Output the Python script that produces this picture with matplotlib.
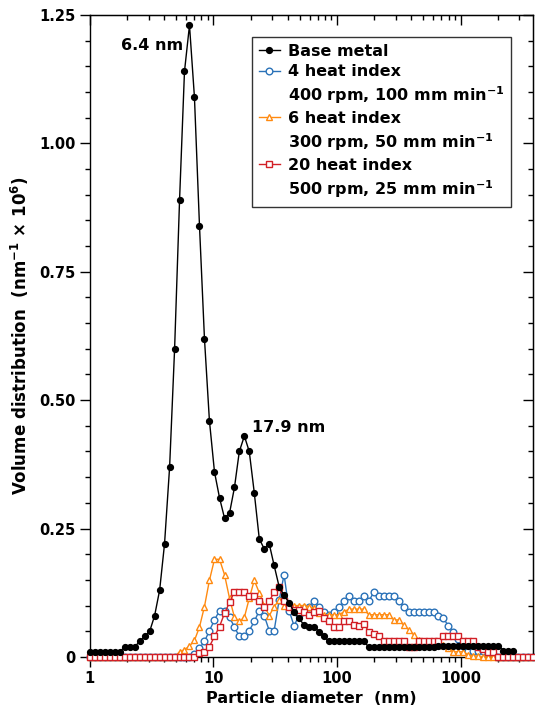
import numpy as np
import matplotlib
matplotlib.use('Agg')
import matplotlib.pyplot as plt
from matplotlib.ticker import MultipleLocator, LogLocator, NullFormatter, FixedLocator

# particle diameter bins (nm)
diam = [1.00, 1.10, 1.20, 1.32, 1.45, 1.59, 1.75, 1.92, 2.10, 2.31,
        2.53, 2.78, 3.05, 3.34, 3.67, 4.02, 4.42, 4.85, 5.32, 5.83,
        6.40, 7.02, 7.71, 8.46, 9.28, 10.2, 11.2, 12.3, 13.5, 14.8,
        16.2, 17.8, 19.5, 21.4, 23.5, 25.8, 28.3, 31.0, 34.0, 37.3,
        41.0, 45.0, 49.3, 54.1, 59.4, 65.2, 71.5, 78.5, 86.1, 94.5,
        104, 114, 125, 137, 150, 165, 181, 199, 218, 239,
        262, 288, 316, 346, 380, 417, 458, 502, 551, 605,
        663, 728, 799, 876, 961, 1055, 1157, 1270, 1394, 1529,
        1678, 1841, 2020, 2217, 2432, 2669, 2928, 3213, 3526, 3868]

base = [0.01, 0.01, 0.01, 0.01, 0.01, 0.01, 0.01, 0.02, 0.02, 0.02,
        0.03, 0.04, 0.05, 0.08, 0.13, 0.22, 0.37, 0.60, 0.89, 1.14,
        1.23, 1.09, 0.84, 0.62, 0.46, 0.36, 0.31, 0.27, 0.28, 0.33,
        0.40, 0.43, 0.40, 0.32, 0.23, 0.21, 0.22, 0.178, 0.137, 0.12,
        0.105, 0.088, 0.075, 0.062, 0.059, 0.059, 0.049, 0.040, 0.030, 0.030,
        0.030, 0.030, 0.030, 0.030, 0.030, 0.030, 0.019, 0.019, 0.019, 0.019,
        0.019, 0.019, 0.019, 0.019, 0.019, 0.019, 0.019, 0.019, 0.019, 0.019,
        0.022, 0.022, 0.022, 0.022, 0.022, 0.022, 0.022, 0.022, 0.022, 0.022,
        0.022, 0.022, 0.022, 0.012, 0.012, 0.012]

hi4 = [0, 0, 0, 0, 0, 0, 0, 0, 0, 0,
       0, 0, 0, 0, 0, 0, 0, 0, 0, 0,
       0, 0.005, 0.017, 0.030, 0.051, 0.072, 0.090, 0.090, 0.077, 0.058,
       0.040, 0.040, 0.051, 0.069, 0.090, 0.080, 0.051, 0.051, 0.110, 0.160,
       0.090, 0.060, 0.082, 0.095, 0.098, 0.108, 0.098, 0.088, 0.082, 0.088,
       0.098, 0.108, 0.118, 0.108, 0.108, 0.118, 0.108, 0.127, 0.119, 0.119,
       0.119, 0.119, 0.108, 0.098, 0.088, 0.088, 0.088, 0.088, 0.088, 0.088,
       0.080, 0.075, 0.060, 0.048, 0.035, 0.022, 0.012, 0.012, 0.012, 0.012,
       0.005, 0.005, 0, 0, 0, 0, 0, 0, 0, 0]

hi6 = [0, 0, 0, 0, 0, 0, 0, 0, 0, 0,
       0, 0, 0, 0, 0, 0, 0, 0, 0.010, 0.014,
       0.021, 0.032, 0.058, 0.098, 0.149, 0.190, 0.190, 0.160, 0.114, 0.077,
       0.069, 0.077, 0.114, 0.149, 0.125, 0.100, 0.080, 0.098, 0.110, 0.100,
       0.100, 0.100, 0.100, 0.100, 0.098, 0.095, 0.085, 0.082, 0.082, 0.082,
       0.082, 0.088, 0.093, 0.093, 0.093, 0.093, 0.082, 0.082, 0.082, 0.082,
       0.082, 0.072, 0.072, 0.062, 0.053, 0.043, 0.033, 0.030, 0.028, 0.025,
       0.023, 0.023, 0.017, 0.010, 0.010, 0.010, 0.004, 0.002, 0.002, 0,
       0, 0, 0, 0, 0, 0, 0, 0, 0, 0]

hi20 = [0, 0, 0, 0, 0, 0, 0, 0, 0, 0,
        0, 0, 0, 0, 0, 0, 0, 0, 0, 0,
        0, 0, 0.008, 0.010, 0.020, 0.040, 0.059, 0.085, 0.106, 0.127,
        0.127, 0.127, 0.118, 0.118, 0.108, 0.098, 0.108, 0.127, 0.137, 0.108,
        0.098, 0.092, 0.092, 0.088, 0.082, 0.088, 0.090, 0.075, 0.069, 0.059,
        0.059, 0.069, 0.069, 0.062, 0.060, 0.065, 0.049, 0.045, 0.040, 0.030,
        0.030, 0.030, 0.030, 0.030, 0.020, 0.020, 0.030, 0.030, 0.030, 0.030,
        0.030, 0.040, 0.040, 0.040, 0.040, 0.030, 0.030, 0.030, 0.019, 0.015,
        0.010, 0.010, 0, 0, 0, 0, 0, 0, 0, 0]

# fonts
plt.rcParams['font.family'] = ['DejaVu Sans']
plt.rcParams['font.weight'] = 'bold'
plt.rcParams['axes.labelweight'] = 'bold'
plt.rcParams['mathtext.fontset'] = 'dejavusans'
plt.rcParams['mathtext.default'] = 'bf'

fig = plt.figure(figsize=(5.35, 7.14), dpi=100)
ax = fig.add_axes([0.168, 0.080, 0.828, 0.899])

ax.plot(diam[:len(base)], base, '-o', color='k', lw=1.0, ms=4.2,
        clip_on=False, zorder=5, label='Base metal')
ax.plot(diam, hi4, '-o', color='#2a72b8', lw=1.0, ms=4.8, mfc='white',
        mew=1.0, clip_on=False, zorder=2, label='4 heat index')
ax.plot([], [], ' ', label='400 rpm, 100 mm min$^{-1}$')
ax.plot(diam, hi6, '-^', color='#ff8a10', lw=1.0, ms=5.0, mfc='white',
        mew=1.0, clip_on=False, zorder=3, label='6 heat index')
ax.plot([], [], ' ', label='300 rpm, 50 mm min$^{-1}$')
ax.plot(diam, hi20, '-s', color='#d21f26', lw=1.0, ms=4.8, mfc='white',
        mew=1.0, clip_on=False, zorder=4, label='20 heat index')
ax.plot([], [], ' ', label='500 rpm, 25 mm min$^{-1}$')

ax.set_xscale('log')
ax.set_xlim(1, 3850)
ax.set_ylim(0, 1.25)

ax.xaxis.set_major_locator(FixedLocator([1, 10, 100, 1000]))
ax.xaxis.set_major_formatter(plt.FuncFormatter(lambda v, p: '%d' % v))
ax.xaxis.set_minor_locator(LogLocator(base=10, subs=np.arange(2, 10)))
ax.xaxis.set_minor_formatter(NullFormatter())
ax.yaxis.set_major_locator(FixedLocator([0, 0.25, 0.5, 0.75, 1.0, 1.25]))
ax.yaxis.set_major_formatter(plt.FuncFormatter(lambda v, p: '0' if v == 0 else '%.2f' % v))
ax.yaxis.set_minor_locator(MultipleLocator(0.05))

ax.tick_params(which='both', direction='out', width=1.0, labelsize=10.5)
ax.tick_params(which='major', length=7)
ax.tick_params(which='minor', length=3.5)
for s in ax.spines.values():
    s.set_linewidth(1.0)

# inward ticks on top and right
top = ax.secondary_xaxis('top')
top.set_xscale('log')
top.xaxis.set_major_locator(FixedLocator([1, 10, 100, 1000]))
top.xaxis.set_minor_locator(LogLocator(base=10, subs=np.arange(2, 10)))
top.tick_params(which='both', direction='in', labeltop=False, width=1.0)
top.tick_params(which='major', length=7)
top.tick_params(which='minor', length=3.5)
right = ax.secondary_yaxis('right')
right.yaxis.set_major_locator(FixedLocator([0, 0.25, 0.5, 0.75, 1.0, 1.25]))
right.yaxis.set_minor_locator(MultipleLocator(0.05))
right.tick_params(which='both', direction='in', labelright=False, width=1.0)
right.tick_params(which='major', length=7)
right.tick_params(which='minor', length=3.5)

ax.set_xlabel('Particle diameter  (nm)', fontsize=11.5, labelpad=3)
ax.set_ylabel('Volume distribution  (nm$^{-1}$ \u00d7 10$^{6}$)', fontsize=12, labelpad=6)

ax.text(5.7, 1.19, '6.4 nm', ha='right', va='center', fontsize=11.5)
ax.text(20.7, 0.447, '17.9 nm', ha='left', va='center', fontsize=11.5)

leg = ax.legend(loc='upper left', bbox_to_anchor=(0.365, 0.966), borderaxespad=0,
                fontsize=11.5, handlelength=1.3, handletextpad=0.5, labelspacing=0.32,
                frameon=True, fancybox=False, edgecolor='k', borderpad=0.45)
leg.get_frame().set_linewidth(1.0)

fig.savefig('out.png', dpi=100)
